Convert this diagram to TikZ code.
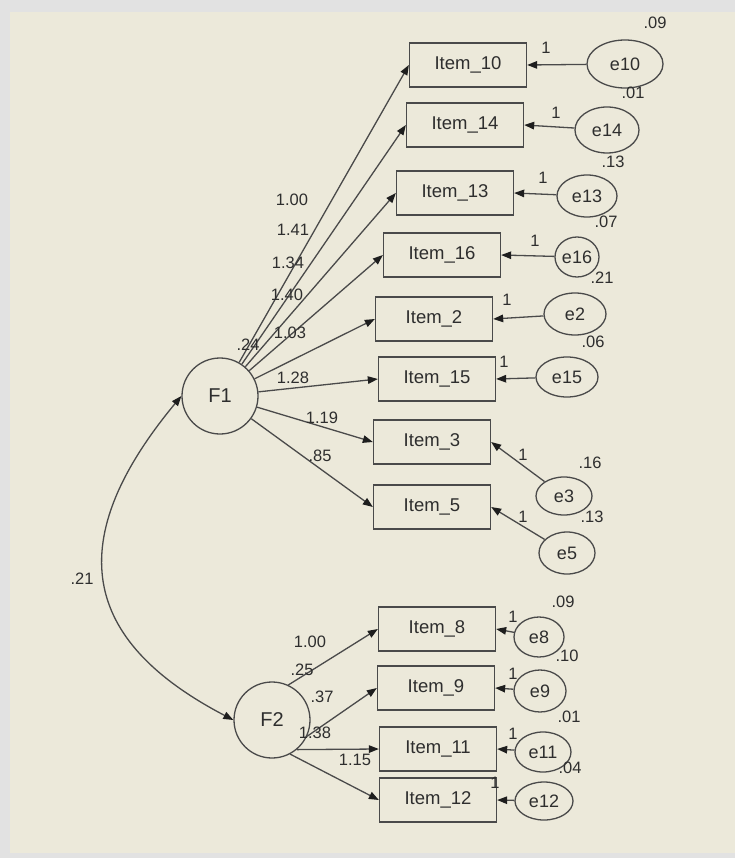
\documentclass[tikz,border=0pt]{standalone}
\usepackage{fontspec}
\setmainfont{Liberation Sans}
\usetikzlibrary{arrows.meta,shapes.geometric}
\definecolor{panel}{HTML}{ECE9DA}
\definecolor{frame}{HTML}{E2E2E2}
\definecolor{ink}{HTML}{4A4A4A}
\definecolor{tip}{HTML}{1E1E1E}
\definecolor{txt}{HTML}{2E2E2E}
\tikzset{
  item/.style={draw=ink, line width=1.3pt, minimum width=117pt, minimum height=44pt,
    inner sep=0pt, text=txt, font=\fontsize{18.5}{20}\selectfont},
  err/.style={ellipse, draw=ink, line width=1.3pt, inner sep=0pt, text=txt,
    font=\fontsize{18}{20}\selectfont},
  fac/.style={circle, draw=ink, line width=1.3pt, minimum size=76pt, inner sep=0pt,
    text=txt, font=\fontsize{20}{22}\selectfont},
  load/.style={draw=ink, line width=1.3pt, -{Triangle[length=10pt,width=7.5pt,color=tip]}},
  num/.style={text=txt, inner sep=0pt, font=\fontsize{16.5}{18}\selectfont}
}
\begin{document}
\begin{tikzpicture}[x=1pt, y=-1pt]
  \fill[frame] (0,0) rectangle (735,858);
  \fill[panel] (10,12) rectangle (735,853);
  \useasboundingbox (0,0) rectangle (735,858);
  % factors
  \node[fac] (F1) at (220,396) {F1};
  \node[fac] (F2) at (272,720) {F2};
  % items of F1
  \node[item] (i10) at (468,65) {Item\_10};
  \node[item] (i14) at (465,125) {Item\_14};
  \node[item] (i13) at (455,193) {Item\_13};
  \node[item] (i16) at (442,255) {Item\_16};
  \node[item] (i2) at (434,319) {Item\_2};
  \node[item] (i15) at (437,379) {Item\_15};
  \node[item] (i3) at (432,442) {Item\_3};
  \node[item] (i5) at (432,507) {Item\_5};
  % items of F2
  \node[item] (i8) at (437,629) {Item\_8};
  \node[item] (i9) at (436,688) {Item\_9};
  \node[item] (i11) at (438,749) {Item\_11};
  \node[item] (i12) at (438,800) {Item\_12};
  % error terms
  \node[err, minimum width=76pt, minimum height=48pt] (e10) at (625,64) {e10};
  \node[err, minimum width=64pt, minimum height=46pt] (e14) at (607,130) {e14};
  \node[err, minimum width=60pt, minimum height=42pt] (e13) at (587,196) {e13};
  \node[err, minimum width=44pt, minimum height=40pt] (e16) at (577,257) {e16};
  \node[err, minimum width=62pt, minimum height=42pt] (e2) at (575,314) {e2};
  \node[err, minimum width=62pt, minimum height=40pt] (e15) at (567,377) {e15};
  \node[err, minimum width=56pt, minimum height=38pt] (e3) at (564,496) {e3};
  \node[err, minimum width=56pt, minimum height=42pt] (e5) at (567,553) {e5};
  \node[err, minimum width=50pt, minimum height=40pt] (e8) at (539,637) {e8};
  \node[err, minimum width=52pt, minimum height=42pt] (e9) at (540,691) {e9};
  \node[err, minimum width=56pt, minimum height=40pt] (e11) at (543,752) {e11};
  \node[err, minimum width=58pt, minimum height=38pt] (e12) at (544,801) {e12};
  % paths
  \foreach \i in {i10,i14,i13,i16,i2,i15,i3,i5}
    \draw[load] (F1) -- (\i.west);
  \foreach \a/\i in {65/i8,-25/i9,-50/i11,-62/i12}
    \draw[load] (F2.\a) -- (\i.west);
  \foreach \e/\i in {e10/i10,e14/i14,e13/i13,e16/i16,e2/i2,e15/i15,e3/i3,e5/i5,
                     e8/i8,e9/i9,e11/i11,e12/i12}
    \draw[load] (\e) -- (\i.east);
  % covariance
  \draw[load, {Triangle[length=10pt,width=7.5pt,color=tip]}-{Triangle[length=10pt,width=7.5pt,color=tip]}]
    (F1.west) .. controls (62,540) and (80,640) .. (F2.west);
  \node[num] (cov) at (82,579) {.21};
  % loadings
  \node[num] (l10) at (292,200) {1.00};
  \node[num] (l14) at (293,230) {1.41};
  \node[num] (l13) at (288,263) {1.34};
  \node[num] (l16) at (287,295) {1.40};
  \node[num] (l2) at (290,333) {1.03};
  \node[num] (l15) at (293,378) {1.28};
  \node[num] (l3) at (322,418) {1.19};
  \node[num] (l5) at (320,456) {.85};
  \node[num] (vF1) at (248,345) {.24};
  \node[num] (l8) at (310,642) {1.00};
  \node[num] (vF2) at (302,670) {.25};
  \node[num] (l9) at (322,697) {.37};
  \node[num] (l11) at (315,733) {1.38};
  \node[num] (l12) at (355,760) {1.15};
  % error weights
  \node[num] (w10) at (546,48) {1};
  \node[num] (w14) at (556,113) {1};
  \node[num] (w13) at (543,178) {1};
  \node[num] (w16) at (535,241) {1};
  \node[num] (w2) at (507,300) {1};
  \node[num] (w15) at (504,362) {1};
  \node[num] (w3) at (523,455) {1};
  \node[num] (w5) at (523,517) {1};
  \node[num] (w8) at (513,617) {1};
  \node[num] (w9) at (513,674) {1};
  \node[num] (w11) at (513,734) {1};
  \node[num] (w12) at (495,783) {1};
  % error variances
  \node[num] (v10) at (655,23) {.09};
  \node[num] (v14) at (633,93) {.01};
  \node[num] (v13) at (613,162) {.13};
  \node[num] (v16) at (606,222) {.07};
  \node[num] (v2) at (602,278) {.21};
  \node[num] (v15) at (593,342) {.06};
  \node[num] (v3) at (590,463) {.16};
  \node[num] (v5) at (592,517) {.13};
  \node[num] (v8) at (563,602) {.09};
  \node[num] (v9) at (567,656) {.10};
  \node[num] (v11) at (569,717) {.01};
  \node[num] (v12) at (570,768) {.04};
\end{tikzpicture}
\end{document}
